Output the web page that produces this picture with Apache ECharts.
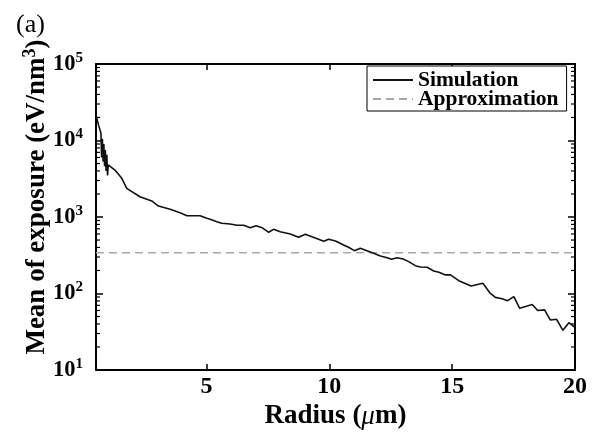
<!DOCTYPE html>
<html><head><meta charset="utf-8">
<script src="https://cdn.jsdelivr.net/npm/echarts@6/dist/echarts.min.js"></script>
<style>html,body{margin:0;padding:0;background:#fff}#c{width:600px;height:442px}</style>
</head><body><div id="c"></div>
<script>
// ---- data ----
const radius = [0.5,0.6,0.7,0.73,0.76,0.79,0.82,0.85,0.88,0.91,0.94,0.97,1.0,1.27,1.55,1.75,2.29,2.77,3.04,3.52,3.92,4.2,4.74,5.01,5.15,5.42,5.62,5.96,6.24,6.51,6.78,7.02,7.26,7.53,7.73,8.0,8.41,8.75,9.02,9.29,9.56,9.77,9.97,10.25,10.58,10.78,11.02,11.26,11.53,11.8,12.08,12.35,12.53,12.76,13.0,13.23,13.5,13.71,13.98,14.25,14.46,14.73,14.93,15.27,15.77,16.25,16.53,16.76,17.03,17.26,17.51,17.75,18.26,18.48,18.76,19.0,19.25,19.51,19.75,20.0];
const exposure = [21500,16000,12500,6000,10500,5300,9000,4600,7500,4000,6500,3500,4790,4110,3200,2370,1840,1620,1390,1260,1140,1040,1040,962,933,869,829,810,779,779,725,769,725,631,690,643,600,543,594,552,511,481,511,486,430,402,363,390,363,335,309,294,280,294,282,261,231,222,220,197,189,175,175,147,125,136,102,89,85.5,80.5,91,64,72,60,61,45,46,33,41.5,36];
const approxValue = 340;
const seriesNames = ['Simulation', 'Approximation'];
const xRange = [0.5, 20];
const yRange = [10, 100000];
const xTickValues = [5, 10, 15, 20];
const minorTickMultipliers = [2,3,4,5,6,7,8,9];
const decades = [10, 100, 1000, 10000];

const FONT = 'Liberation Serif';
const simData = radius.map((r, i) => [r, exposure[i]]);
const approxData = [[xRange[0], approxValue], [xRange[1], approxValue]];
const minorTicks = [];
decades.forEach(d => minorTickMultipliers.forEach(m => minorTicks.push([xRange[0], m * d])));

const chart = echarts.init(document.getElementById('c'), null, {renderer: 'canvas'});
const axisLine = {show: true, onZero: false, lineStyle: {color: '#000', width: 2}};
const yLabelRich = {
  b: {fontFamily: FONT, fontWeight: 'bold', fontSize: 22.5, color: '#000'},
  s: {fontFamily: FONT, fontWeight: 'bold', fontSize: 15, color: '#000', padding: [0, 0, 12, 0]}
};
chart.setOption({
  animation: false,
  backgroundColor: '#fff',
  title: {text: '(a)', left: 11, top: 7, textStyle: {fontFamily: FONT, fontWeight: 'normal', fontSize: 26, color: '#000'}},
  grid: {left: 96, right: 25, top: 64, bottom: 72, containLabel: false},
  legend: {
    data: seriesNames, orient: 'vertical', left: 367, top: 66,
    itemWidth: 40, itemHeight: 14, itemGap: -3, padding: [3, 8, 1, 5],
    borderColor: '#000', borderWidth: 1, backgroundColor: '#fff',
    itemStyle: {opacity: 0},
    textStyle: {fontFamily: FONT, fontWeight: 'bold', fontSize: 21.5, lineHeight: 19, color: '#000'}
  },
  xAxis: [{
    type: 'value', min: xRange[0], max: xRange[1], position: 'bottom',
    axisLine: axisLine, splitLine: {show: false},
    axisTick: {show: true, inside: true, length: 6, customValues: xTickValues, lineStyle: {color: '#000', width: 1.5}},
    axisLabel: {customValues: xTickValues, margin: 5, fontFamily: FONT, fontWeight: 'bold', fontSize: 24, color: '#000'},
    name: '{n|Radius (}{m|μ}{n|m)}', nameLocation: 'middle', nameGap: 33, nameMoveOverlap: false,
    nameTextStyle: {rich: {
      n: {fontFamily: FONT, fontWeight: 'bold', fontSize: 27, color: '#000'},
      m: {fontFamily: FONT, fontStyle: 'italic', fontSize: 27, color: '#000'}
    }}
  }, {
    type: 'value', min: xRange[0], max: xRange[1], position: 'top',
    axisLine: axisLine, splitLine: {show: false},
    axisTick: {show: true, inside: true, length: 6, customValues: xTickValues, lineStyle: {color: '#000', width: 1.5}},
    axisLabel: {show: false}
  }],
  yAxis: [{
    type: 'log', logBase: 10, min: yRange[0], max: yRange[1], position: 'left',
    axisLine: axisLine, splitLine: {show: false},
    axisTick: {show: true, inside: true, length: 7, lineStyle: {color: '#000', width: 1.5}},
    axisLabel: {margin: 13, formatter: v => '{b|10}{s|' + Math.round(Math.log10(v)) + '}', rich: yLabelRich},
    name: '{a|Mean of exposure (eV/nm}{s|3}{a|)}', nameLocation: 'middle', nameGap: 43, nameMoveOverlap: false,
    nameTextStyle: {padding: [0, 0, 0, 40], rich: {
      a: {fontFamily: FONT, fontWeight: 'bold', fontSize: 27, color: '#000'},
      s: {fontFamily: FONT, fontWeight: 'bold', fontSize: 18, color: '#000', padding: [0, 0, 14, 0]}
    }}
  }, {
    type: 'log', logBase: 10, min: yRange[0], max: yRange[1], position: 'right',
    axisLine: axisLine, splitLine: {show: false},
    axisTick: {show: true, inside: true, length: 7, lineStyle: {color: '#000', width: 1.5}},
    axisLabel: {show: false}
  }],
  series: [{
    name: seriesNames[0], type: 'line', data: simData, showSymbol: false, symbol: 'none',
    lineStyle: {color: '#111', width: 1.6}, itemStyle: {color: '#111'}, z: 3
  }, {
    name: seriesNames[1], type: 'line', data: approxData, showSymbol: false, symbol: 'none',
    lineStyle: {color: '#a8a8a8', width: 1.5, type: [8, 5]}, itemStyle: {color: '#a8a8a8'}, z: 2
  }, {
    name: 'minorTicks', type: 'custom', data: minorTicks, silent: true, clip: false,
    encode: {x: 0, y: 1},
    renderItem: (params, api) => {
      const v = api.value(1);
      const pL = api.coord([xRange[0], v]);
      const pR = api.coord([xRange[1], v]);
      const st = {stroke: '#000', lineWidth: 1.2};
      return {type: 'group', children: [
        {type: 'line', shape: {x1: pL[0], y1: pL[1], x2: pL[0] + 4, y2: pL[1]}, style: st},
        {type: 'line', shape: {x1: pR[0], y1: pR[1], x2: pR[0] - 4, y2: pR[1]}, style: st}
      ]};
    }
  }]
});
</script>
</body></html>
